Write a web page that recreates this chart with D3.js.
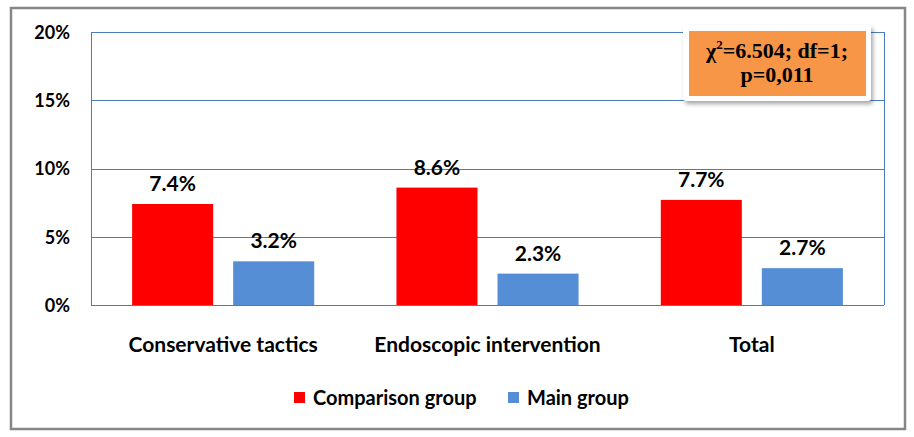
<!DOCTYPE html>
<html>
<head>
<meta charset="utf-8">
<script src="https://cdn.jsdelivr.net/npm/d3@7/dist/d3.min.js"></script>
<style>
  body { margin: 0; background: #fff; }
  svg text { font-family: Lato, "Open Sans", sans-serif; font-weight: bold; fill: #000; }
</style>
</head>
<body>
<div id="chart"></div>
<script>
// chart data
const categories = ['Conservative tactics', 'Endoscopic intervention', 'Total']
const seriesNames = ['Comparison group', 'Main group']
const comparisonValues = [7.4, 8.6, 7.7]
const mainValues = [3.2, 2.3, 2.7]
const yTicks = [0, 5, 10, 15, 20]
const statLines = ['=6.504; df=1;', 'p=0,011']

const seriesColors = ['#ff0000', '#558ed5']
const gridColor = '#4a7ebb'

const width = 914, height = 437
const plot = {left: 91, right: 884, top: 32, bottom: 305}

const svg = d3.select('#chart').append('svg')
    .attr('width', width)
    .attr('height', height)

// outer frame
svg.append('rect')
    .attr('x', 11).attr('y', 8)
    .attr('width', 894).attr('height', 421)
    .attr('fill', '#fff')
    .attr('stroke', '#868686')
    .attr('stroke-width', 2.5)

const y = d3.scaleLinear().domain([0, 20]).range([plot.bottom, plot.top])
const x0 = d3.scaleBand().domain(categories).range([plot.left, plot.right])
const x1 = d3.scaleBand().domain(seriesNames).range([0, x0.bandwidth()])
    .paddingInner(20 / 101).paddingOuter(0.407)

// gridlines
svg.append('g').selectAll('line').data(yTicks).enter().append('line')
    .attr('x1', plot.left).attr('x2', plot.right)
    .attr('y1', d => Math.round(y(d)) + 0.5)
    .attr('y2', d => Math.round(y(d)) + 0.5)
    .attr('stroke', gridColor)
    .attr('stroke-width', 1)

// plot border (left / right)
svg.append('line')
    .attr('x1', plot.left + 0.5).attr('x2', plot.left + 0.5)
    .attr('y1', y(20)).attr('y2', y(0))
    .attr('stroke', gridColor)
svg.append('line')
    .attr('x1', plot.right + 0.5).attr('x2', plot.right + 0.5)
    .attr('y1', y(20)).attr('y2', y(0))
    .attr('stroke', gridColor)

// y axis labels
const yAxis = d3.axisLeft(y).tickValues(yTicks).tickFormat(d => d + '%').tickSize(0).tickPadding(0)
const yAxisG = svg.append('g').attr('transform', 'translate(70,0)').call(yAxis)
yAxisG.select('.domain').remove()
yAxisG.selectAll('text')
    .style('font-size', '18px')
    .attr('dy', '0.36em')

// x axis labels
const xAxis = d3.axisBottom(x0).tickSize(0).tickPadding(0)
const xAxisG = svg.append('g').attr('transform', 'translate(0,' + 344 + ')').call(xAxis)
xAxisG.select('.domain').remove()
xAxisG.selectAll('text')
    .style('font-size', '21px')
    .attr('dy', '0.36em')

// bars
const barData = []
categories.forEach(function(c, i){
    barData.push({cat: c, series: seriesNames[0], value: comparisonValues[i], color: seriesColors[0]})
    barData.push({cat: c, series: seriesNames[1], value: mainValues[i], color: seriesColors[1]})
})

const bars = svg.append('g')
bars.selectAll('rect').data(barData).enter().append('rect')
    .attr('x', d => x0(d.cat) + x1(d.series))
    .attr('width', x1.bandwidth())
    .attr('y', d => y(d.value))
    .attr('height', d => y(0) - y(d.value))
    .attr('fill', d => d.color)

bars.selectAll('text').data(barData).enter().append('text')
    .attr('x', d => x0(d.cat) + x1(d.series) + x1.bandwidth() / 2)
    .attr('y', d => y(d.value) - 13)
    .attr('text-anchor', 'middle')
    .style('font-size', '21px')
    .text(d => d.value.toFixed(1) + '%')

// stats box
const defs = svg.append('defs')
const filt = defs.append('filter').attr('id', 'shadow').attr('x', '-10%').attr('y', '-10%').attr('width', '130%').attr('height', '140%')
filt.append('feDropShadow').attr('dx', 2).attr('dy', 3).attr('stdDeviation', 2).attr('flood-color', '#000').attr('flood-opacity', 0.35)

svg.append('rect')
    .attr('x', 683).attr('y', 25)
    .attr('width', 188).attr('height', 76)
    .attr('rx', 3)
    .attr('fill', '#fff')
    .attr('filter', 'url(#shadow)')
svg.append('rect')
    .attr('x', 689).attr('y', 31)
    .attr('width', 177).attr('height', 65)
    .attr('fill', '#f79646')

const stat1 = svg.append('text')
    .attr('x', 777).attr('y', 58)
    .attr('text-anchor', 'middle')
    .style('font-family', '"Liberation Serif", "Times New Roman", serif')
    .style('font-size', '22px')
stat1.append('tspan').text('χ')
stat1.append('tspan').attr('dy', -9).style('font-size', '13px').text('2')
stat1.append('tspan').attr('dy', 9).text(statLines[0])

svg.append('text')
    .attr('x', 777).attr('y', 82)
    .attr('text-anchor', 'middle')
    .style('font-family', '"Liberation Serif", "Times New Roman", serif')
    .style('font-size', '22px')
    .text(statLines[1])

// legend
const legendX = [294, 508]
const legend = svg.append('g')
seriesNames.forEach(function(s, i){
    legend.append('rect')
        .attr('x', legendX[i]).attr('y', 392)
        .attr('width', 11).attr('height', 11)
        .attr('fill', seriesColors[i])
    legend.append('text')
        .attr('x', legendX[i] + 19).attr('y', 398)
        .attr('dy', '0.36em')
        .style('font-size', '20px')
        .text(s)
})
</script>
</body>
</html>
